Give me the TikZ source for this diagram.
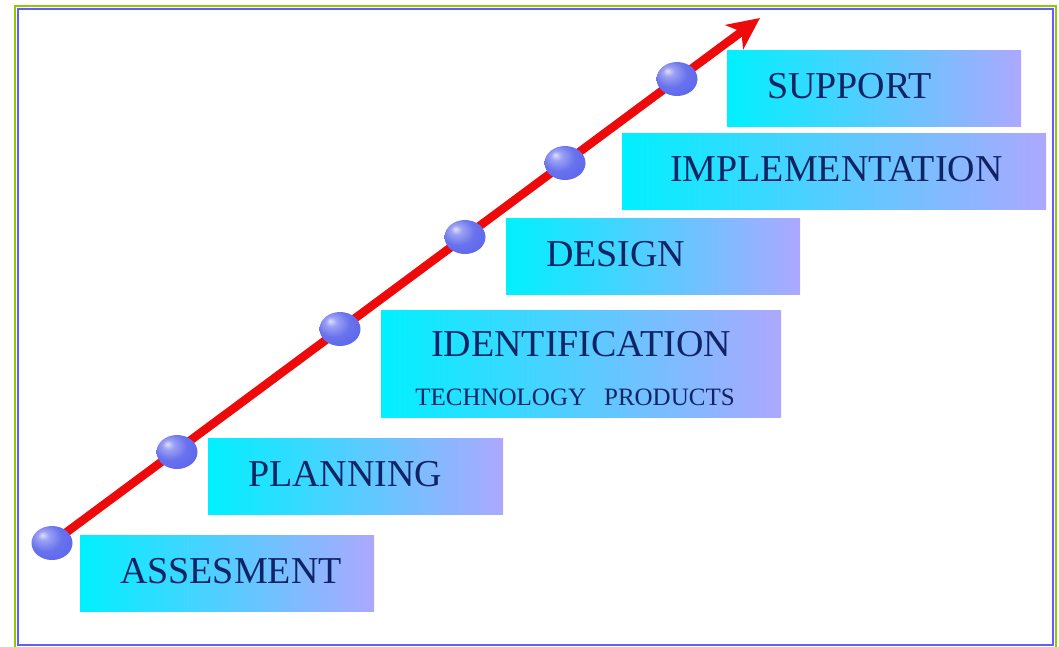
\documentclass[tikz,border=0pt]{standalone}
\usepackage{fontspec}
\setmainfont{Liberation Serif}
\usetikzlibrary{arrows.meta}
\usetikzlibrary{shapes.geometric}
\usetikzlibrary{backgrounds}

\definecolor{stepcyan}{RGB}{0,240,255}
\definecolor{steplilac}{RGB}{172,168,255}
\definecolor{stepink}{RGB}{16,36,100}
\definecolor{pathred}{RGB}{238,10,10}
\definecolor{framegreen}{RGB}{150,200,0}
\definecolor{frameblue}{RGB}{95,95,255}
\definecolor{ballblue}{RGB}{88,98,235}

% soft sphere, lit from the upper left
\pgfdeclareradialshading{milestoneshade}{\pgfpoint{-12bp}{12bp}}{%
    color(0bp)=(white!80!ballblue);
    color(7bp)=(ballblue!60!white);
    color(20bp)=(ballblue!90!white);
    color(40bp)=(ballblue);
    color(60bp)=(ballblue!80!black)}

\begin{document}
\begin{tikzpicture}[
            x=1pt, y=-1pt,
            stagebox/.style={rectangle, left color=stepcyan, right color=steplilac, text=stepink, minimum height=76pt, inner xsep=40pt, inner ysep=0pt, align=left, font=\fontsize{38}{41}\selectfont},
            milestone/.style={ellipse, shading=milestoneshade, minimum width=41pt, minimum height=34pt, inner sep=0pt},
        ]
        \useasboundingbox (0,0) rectangle (1059,646);

        % Stages.
        \node[stagebox, text width=214pt, text depth=5pt] (assesment)     at (227,573)   {ASSESMENT};
        \node[stagebox, text width=215pt, text depth=5pt] (planning)      at (355.5,476) {PLANNING};
        \node[stagebox, text width=320pt, align=center, minimum height=107pt] (identification) at (581,363.5)
            {\rule{0pt}{35pt}IDENTIFICATION\\[8pt]{\fontsize{25}{28}\selectfont\hspace*{-12pt}TECHNOLOGY\hspace{18pt}PRODUCTS}};
        \node[stagebox, text width=214pt, text depth=5pt] (design)        at (653,256)   {DESIGN};
        \node[stagebox, text width=328pt, text depth=5pt, inner xsep=48pt] (implementation) at (834,171) {IMPLEMENTATION};
        \node[stagebox, text width=214pt, text depth=5pt] (support)       at (874,88)    {SUPPORT};

        % Milestones.
        \node[milestone] (assesment_dot)      at (52,543)  {};
        \node[milestone] (planning_dot)       at (177,452) {};
        \node[milestone] (identification_dot) at (340,329) {};
        \node[milestone] (design_dot)         at (465,237) {};
        \node[milestone] (implementation_dot) at (565,163) {};
        \node[milestone] (support_dot)        at (677,79)  {};
        \coordinate (tip) at (760,18);

        % Lines.
        \begin{scope}[on background layer]
            \draw[pathred, line width=8.5pt, -{Stealth[length=32pt,width=30pt,inset=9pt]}] (assesment_dot.center) -- (tip);
        \end{scope}

        % Frame.
        \draw[framegreen, line width=2.5pt] (15,6) rectangle (1056,652);
        \draw[frameblue, line width=2.5pt] (18,9) rectangle (1053,645);
    \end{tikzpicture}
\end{document}
